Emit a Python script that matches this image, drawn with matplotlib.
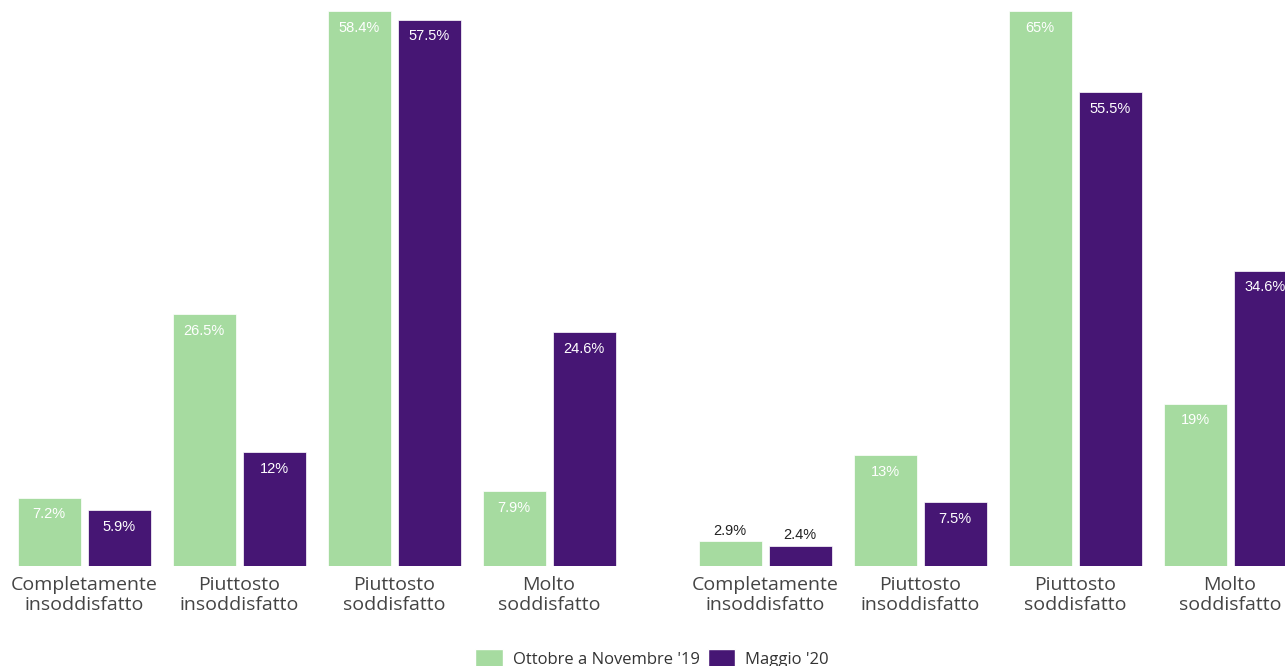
import matplotlib
matplotlib.use("Agg")
import matplotlib.pyplot as plt
import numpy as np
from matplotlib.patches import Patch

categories = ["Completamente\ninsoddisfatto", "Piuttosto\ninsoddisfatto",
              "Piuttosto\nsoddisfatto", "Molto\nsoddisfatto"]
series_names = ["Ottobre a Novembre '19", "Maggio '20"]
left_2019 = [7.2, 26.5, 58.4, 7.9]
left_2020 = [5.9, 12, 57.5, 24.6]
right_2019 = [2.9, 13, 65, 19]
right_2020 = [2.4, 7.5, 55.5, 34.6]
label_2019_left = ["7.2%", "26.5%", "58.4%", "7.9%"]
label_2020_left = ["5.9%", "12%", "57.5%", "24.6%"]
label_2019_right = ["2.9%", "13%", "65%", "19%"]
label_2020_right = ["2.4%", "7.5%", "55.5%", "34.6%"]

GREEN = "#a6dba0"
PURPLE = "#461674"
W, H = 1285, 666
fig = plt.figure(figsize=(W / 100, H / 100), dpi=100)

pitch = 155.0
bw = 63 / pitch
off = 35 / pitch

def panel(left_px, right_px, ymax_val, v1, v2, l1, l2):
    ax = fig.add_axes([left_px / W, 100 / H, (right_px - left_px) / W, 566 / H])
    x = np.arange(len(categories))
    b1 = ax.bar(x - off, v1, width=bw, color=GREEN, edgecolor="white", linewidth=0.5)
    b2 = ax.bar(x + off, v2, width=bw, color=PURPLE, edgecolor="white", linewidth=0.5)
    for bars, vals, labs in ((b1, v1, l1), (b2, v2, l2)):
        for rect, v, lab in zip(bars, vals, labs):
            cx = rect.get_x() + rect.get_width() / 2
            if v < 4:
                ax.annotate(lab, (cx, v), xytext=(0, 7.5), textcoords="offset points",
                            ha="center", va="center", color="#222222",
                            fontsize=10.5, family="Liberation Sans")
            else:
                ax.annotate(lab, (cx, v), xytext=(0, -12), textcoords="offset points",
                            ha="center", va="center", color="white",
                            fontsize=10.5, family="Liberation Sans")
    ax.set_xlim(-0.5, -0.5 + (right_px - left_px) / pitch)
    ax.set_ylim(0, ymax_val * 566 / 555)
    ax.set_xticks(x)
    ax.set_xticklabels(categories, fontsize=14, family="Open Sans", color="#444444",
                       linespacing=1.08)
    ax.tick_params(axis="x", length=0, pad=7.5)
    ax.set_yticks([])
    for s in ax.spines.values():
        s.set_visible(False)
    ax.patch.set_alpha(0)
    return ax

panel(84 - 77.5, 84 + 542.5, 58.4, left_2019, left_2020, label_2019_left, label_2020_left)
panel(765 - 77.5, 1285, 65, right_2019, right_2020, label_2019_right, label_2020_right)

handles = [Patch(facecolor=GREEN, edgecolor="white", label=series_names[0]),
           Patch(facecolor=PURPLE, edgecolor="white", label=series_names[1])]
leg = fig.legend(handles=handles, loc="center", bbox_to_anchor=(652 / W, 7 / H), ncol=2,
                 frameon=False, handlelength=1.65, handleheight=1.5, handletextpad=0.6,
                 columnspacing=0.5, prop={"family": "Open Sans", "size": 12})
for t in leg.get_texts():
    t.set_color("#333333")

fig.savefig("out.png", dpi=100)
